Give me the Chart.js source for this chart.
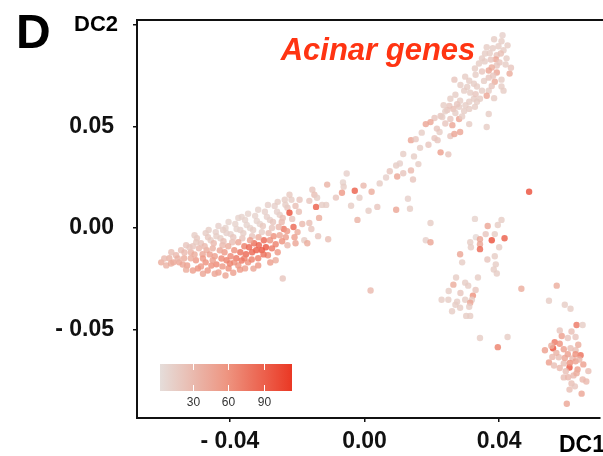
<!DOCTYPE html>
<html>
<head>
<meta charset="utf-8">
<script src="https://cdn.jsdelivr.net/npm/chart.js@4.4.1/dist/chart.umd.min.js"></script>
<style>
  html, body { margin: 0; padding: 0; background: #fff; }
</style>
</head>
<body>
<canvas id="dcChart" width="603" height="456"></canvas>
<script>
// cells as [DC1, DC2, acinar score], DC values in units of 1e-3
const leftArm = [
  [-60.4,-16.9,40],[-58.0,-14.9,35],[-56.0,-13.4,30],[-56.8,-16.9,45],[-54.5,-10.9,25],[-53.6,-14.9,40],[-52.7,-18.4,50],[-51.6,-11.9,35],[-51.0,-9.0,20],[-50.1,-15.9,55],
  [-49.5,-19.9,60],[-48.6,-7.5,20],[-48.1,-12.9,45],[-47.2,-16.9,60],[-46.6,-20.9,55],[-45.7,-6.0,15],[-45.1,-10.0,35],[-44.5,-13.9,50],[-44.0,-17.9,65],[-43.4,-21.9,50],
  [-42.8,-5.0,15],[-42.2,-8.5,30],[-41.6,-11.9,55],[-41.0,-15.9,70],[-40.4,-19.9,60],[-39.8,-3.0,12],[-39.3,-7.0,25],[-38.7,-10.9,60],[-38.1,-14.9,75],[-37.5,-18.4,55],
  [-36.9,-1.0,12],[-36.3,-5.0,20],[-35.7,-9.0,70],[-35.2,-12.9,85],[-34.6,-16.9,60],[-34.0,0,10],[-33.4,-4.0,20],[-32.8,-7.5,80],[-32.2,-10.9,90],[-31.6,-14.9,70],
  [-31.1,2.0,10],[-30.5,-2.0,15],[-29.9,-6.0,85],[-29.3,-9.5,95],[-28.7,-13.4,65],[-28.1,4.0,12],[-27.5,0,20],[-27.0,-4.0,60],[-26.4,-8.0,70],[-25.8,-11.9,55],
  [-25.2,6.5,15],[-24.6,3.0,30],[-24.0,-0.5,75],[-23.4,-4.5,50],[-22.9,10.0,20],[-22.3,7.5,100],[-21.7,13.9,15],[-21.1,0.5,85],[-20.5,10.9,25],[-19.9,-2.0,40],[-19.3,13.9,20]
];
const leftArmFill = [
  [-53.0,-8.5,20],[-49.8,-5.0,18],[-47.2,-2.5,15],[-44.2,-2.0,12],[-41.3,0,10],[-38.4,2.0,10],[-35.5,4.0,10],[-32.5,6.0,10],[-29.6,8.0,12],[-26.7,10.9,12],
  [-23.7,13.9,15],[-22.3,16.4,18],[-25.8,12.9,15],[-28.7,11.4,12],[-31.6,9.0,10],[-34.6,7.0,10],[-37.5,5.0,10],[-40.4,3.0,10],[-43.4,1.0,12],[-46.3,-1.0,14],
  [-49.2,-10.0,30],[-46.9,-10.9,40],[-44.8,-7.5,30],[-41.9,-6.5,25],[-39.0,-4.5,20],[-36.0,-2.5,15],[-33.1,-1.0,15],[-30.2,1.0,18],[-27.2,3.0,20],[-24.3,5.0,25],
  [-39.8,-13.9,65],[-36.9,-11.9,80],[-34.3,-9.5,85],[-31.4,-8.5,88],[-30.5,-10.9,95],[-33.4,-11.9,85],[-35.7,-14.9,70],[-38.7,-16.9,60],[-42.2,-18.9,55],[-45.1,-15.9,50],
  [-48.6,-18.9,55],[-51.6,-14.9,40],[-55.1,-16.9,45],[-58.9,-18.4,35],[-28.1,-6.0,60],[-25.2,-3.5,45],[-22.9,-8.5,30],[-26.4,-15.9,40],[-24.3,-24.9,20],[-20.8,-4.5,50],
  [-17.9,-6.0,15],[-41.3,-23.4,45],[-35.5,-19.9,50],[-31.6,-18.4,55],[-51.0,-20.9,50],[-57.4,-11.9,25]
];
const leftArmExtra = [
  [-59.5,-15.0,30],[-57.5,-17.5,40],[-55.5,-15.0,35],[-54.0,-18.0,45],[-53.5,-12.0,30],[-52.0,-9.5,20],[-50.5,-13.0,40],[-50.0,-7.0,18],[-48.0,-15.0,55],[-47.5,-9.0,30],
  [-46.0,-13.0,50],[-45.5,-18.5,60],[-44.0,-4.0,14],[-43.0,-11.0,45],[-42.5,-15.0,65],[-41.0,-2.5,12],[-40.5,-9.0,40],[-40.0,-17.5,70],[-38.0,-0.5,10],[-37.5,-7.0,45],
  [-37.0,-20.5,55],[-36.5,-16.0,75],[-35.0,1.5,10],[-34.0,-6.0,50],[-33.5,-15.5,70],[-32.0,3.5,10],[-31.5,-4.5,40],[-30.0,-13.0,80],[-29.0,5.5,12],[-28.5,-2.5,30],
  [-27.5,-10.0,75],[-26.0,8.0,12],[-25.5,0.5,30],[-24.5,-6.5,60],[-23.5,11.5,15],[-23.0,-1.5,55],[-21.5,4.5,20],[-20.5,-7.5,45],[-19.5,8.0,25],[-18.5,2.0,30],
  [-44.5,-22.5,45],[-39.0,-22.0,50],[-33.0,-20.0,45],[-28.0,-17.0,50],[-48.0,-22.5,45],[-53.0,-20.5,40],[-42.0,-1.0,14],[-46.5,-4.5,18],[-50.5,-3.5,15],[-36.5,5.5,10]
];
const middleBridge = [
  [-16.4,13.4,20],[-15.5,18.9,20],[-14.9,16.4,25],[-14.4,10.4,90],[-14.1,14.9,15],[-12.6,11.4,15],[-11.4,11.4,15],[-11.1,21.4,35],[-13.5,5.0,40],[-16.4,2.5,25],
  [-15.8,-0.5,20],[-17.0,-7.5,40],[-13.8,-4.0,20],[-10.8,-5.5,25],[-6.4,22.4,10],[-6.2,20.4,15],[-6.7,17.4,55],[-5.3,26.9,12],[-2.9,18.4,90],[-0.3,20.9,30],
  [-1.5,14.9,15],[2.1,17.9,40],[1.2,8.5,15],[3.8,10.4,20],[-2.1,4.0,35],[6.4,24.9,12],[9.7,25.4,45],[9.4,30.8,15],[10.5,31.8,12],[14.7,35.3,15],
  [13.8,28.4,30],[14.4,23.9,20],[12.9,14.4,12],[9.4,9.0,45],[13.5,9.5,15],[18.2,-6.0,12],[1.8,-30.8,30],
  [4.5,22.0,15],[7.5,28.0,20],[-8.5,15.0,20],[-4.0,11.0,15],[11.5,27.0,20],[16.0,31.5,15]
];
const upperArm = [
  [41.0,95.0,12],[40.7,92.0,15],[39.8,89.6,15],[38.1,88.6,15],[36.3,89.1,15],[37.2,86.1,15],[39.3,85.1,20],[41.3,87.6,15],[42.2,83.6,15],[39.0,83.1,45],
  [40.1,81.6,20],[41.9,80.6,15],[39.3,80.1,20],[37.8,79.1,40],[36.9,77.6,45],[34.9,83.6,15],[35.7,82.1,15],[34.0,81.1,15],[32.8,78.6,15],[34.9,77.1,20],
  [36.9,74.1,20],[39.3,76.6,45],[38.7,72.1,40],[40.7,73.1,15],[43.1,76.1,40],[40.7,69.7,15],[41.3,67.7,15],[29.9,74.6,15],[31.1,72.6,15],[26.7,73.1,20],
  [32.5,71.1,15],[33.4,69.7,15],[29.6,67.7,15],[31.4,66.7,15],[34.9,67.7,15],[36.9,67.7,15],[36.3,65.2,45],[34.3,63.7,15],[32.5,63.7,15],[31.1,62.2,15],
  [28.4,62.7,15],[27.0,65.7,15],[25.5,63.7,15],[28.1,59.7,15],[25.2,60.2,20],[24.6,58.2,20],[26.4,58.7,25],[27.0,56.7,15],[29.6,57.7,15],[31.1,58.7,15],
  [32.8,59.7,15],[33.4,62.2,15],[22.6,55.2,20],[20.8,54.2,20],[19.6,52.2,45],[18.2,51.2,45],[25.5,53.7,20],[28.1,53.7,45],[26.1,50.7,45],[31.1,51.2,15],
  [36.3,49.8,15],[36.9,56.2,15],[13.8,43.3,45],[15.2,43.8,20],[20.8,44.3,20],[21.7,43.3,20],[25.5,45.3,20],[26.7,46.3,45],[28.4,47.3,45],[22.6,37.3,50],
  [24.9,36.3,20],[22.3,47.3,15],[23.1,54.7,15],
  [38.5,93.0,15],[42.5,90.0,15],[40.5,86.0,25],[37.5,83.0,20],[35.8,86.0,15],[43.5,79.0,20],[38.2,75.0,20],[35.5,72.5,15],[37.8,70.0,20],[33.0,75.5,15],
  [30.5,69.5,15],[28.5,70.5,15],[33.0,66.0,20],[38.5,64.0,15],[30.0,60.5,15],[27.5,61.0,20],[23.5,60.5,15],[29.0,55.0,15],[24.0,51.5,20],[21.5,49.0,20],
  [17.0,47.0,15],[19.0,41.0,20],[16.5,39.5,15],[11.5,36.5,15],[24.0,57.5,15]
];
const midCluster = [
  [48.9,17.9,100],[19.6,2.5,15],[19.6,-7.0,45],[32.8,4.5,10],[36.6,1.0,45],[39.6,1.5,15],[40.7,4.0,15],[33.1,-4.5,5],[38.7,-3.0,15],[34.3,-5.5,45],
  [37.8,-6.0,100],[41.6,-5.0,90],[31.4,-7.0,15],[34.3,-8.0,45],[31.6,-9.5,15],[34.3,-10.4,85],[28.4,-12.9,45],[29.0,-16.9,15],[38.7,-13.9,15],[39.0,-17.9,15],
  [38.4,-20.4,15],[39.3,-22.4,15],[33.7,-24.4,15],[27.2,-24.4,15],[26.4,-27.9,40],[29.9,-26.9,15],[30.8,-28.4,15],[32.2,-33.3,60],[31.9,-35.3,15],[22.9,-35.3,15],
  [24.9,-35.3,15],[27.5,-36.3,15],[29.9,-35.3,15],[31.4,-36.8,45],[27.0,-37.8,15],[28.4,-39.3,15],[31.1,-38.8,15],[30.2,-43.3,15],[31.4,-43.3,15],[46.6,-29.9,40],
  [57.1,-28.4,40],[54.8,-35.8,15],[34.3,-54.2,15],[39.6,-58.7,70],[42.5,-53.7,15],[59.5,-37.8,15],[61.2,-39.8,15],
  [36.0,-3.0,20],[40.0,-9.5,15],[36.5,-15.5,20],[25.0,-31.0,15],[28.5,-32.0,20],[26.0,-41.0,15],[33.0,-30.5,20]
];
const lowerCluster = [
  [63.0,-47.8,75],[64.8,-47.8,15],[58.6,-53.2,50],[60.4,-54.2,20],[62.7,-53.7,20],[56.5,-56.2,75],[56.0,-59.2,100],[53.6,-60.2,50],[59.2,-59.7,50],[61.2,-59.2,25],
  [62.7,-60.2,25],[60.4,-62.2,50],[64.2,-62.7,80],[57.7,-63.7,25],[61.8,-64.2,30],[54.8,-66.2,50],[56.3,-67.7,25],[59.2,-66.7,25],[62.7,-65.7,50],[65.0,-67.2,50],
  [60.9,-68.7,95],[63.3,-69.7,50],[59.8,-70.6,25],[62.1,-72.6,30],[59.2,-73.6,25],[64.8,-74.6,30],[65.9,-75.6,30],[61.5,-76.6,25],[60.9,-79.6,25],[64.5,-81.6,45],
  [60.1,-86.6,45],[62.7,-62.2,60],
  [58.0,-50.5,20],[61.5,-51.0,25],[55.5,-58.0,40],[58.0,-57.0,60],[63.5,-57.5,40],[57.0,-61.5,35],[59.5,-64.0,45],[63.8,-64.8,35],[55.8,-63.5,30],[61.0,-66.5,60],
  [58.0,-69.0,30],[63.0,-71.5,40],[60.5,-73.5,30],[66.5,-70.5,25],[62.5,-78.0,20]
];

const xTicks = [-0.04, 0, 0.04];
const yTicks = [-0.05, 0, 0.05, 0.10];
const legendTicks = [30, 60, 90];
const scoreMin = 2;
const scoreMax = 114;

// low -> mid -> high colour stops of the score scale
const lowRgb = [229, 221, 218];
const midRgb = [238, 150, 130];
const highRgb = [234, 56, 36];
const fontFamily = "'Liberation Sans', Arial, sans-serif";

function scoreColor(v, alpha) {
  let t = (v - scoreMin) / (scoreMax - scoreMin);
  t = Math.max(0, Math.min(1, t));
  let a = lowRgb, b = midRgb, f = t * 2;
  if (t > 0.5) { a = midRgb; b = highRgb; f = (t - 0.5) * 2; }
  const c = a.map((lo, i) => Math.round(lo + (b[i] - lo) * f));
  return 'rgba(' + c[0] + ',' + c[1] + ',' + c[2] + ',' + alpha + ')';
}

function fmtTick(v) {
  if (Math.abs(v) < 1e-9) return '0.00';
  const s = Math.abs(v).toFixed(2);
  return v < 0 ? '- ' + s : s;
}

const cells = [].concat(leftArm, leftArmFill, leftArmExtra, middleBridge, upperArm, midCluster, lowerCluster);
const points = cells.map(c => ({ x: c[0] / 1000, y: c[1] / 1000 }));
const colors = cells.map(c => scoreColor(c[2], 0.82));

const decorations = {
  id: 'decorations',
  afterDraw(chart) {
    const ctx = chart.ctx;
    const area = chart.chartArea;
    ctx.save();

    // top frame line
    ctx.strokeStyle = '#111';
    ctx.lineWidth = 2;
    ctx.beginPath();
    ctx.moveTo(area.left - 1, area.top);
    ctx.lineTo(603, area.top);
    ctx.stroke();

    ctx.fillStyle = '#000';
    ctx.textBaseline = 'alphabetic';
    ctx.font = 'bold 48px ' + fontFamily;
    ctx.textAlign = 'left';
    ctx.fillText('D', 16, 48);

    ctx.font = 'bold 22px ' + fontFamily;
    ctx.textAlign = 'right';
    ctx.fillText('DC2', 118, 31);

    ctx.font = 'bold 23px ' + fontFamily;
    ctx.textAlign = 'left';
    ctx.fillText('DC1', 559, 452);

    ctx.fillStyle = '#ff3412';
    ctx.font = 'italic bold 31px ' + fontFamily;
    ctx.textAlign = 'center';
    ctx.fillText('Acinar genes', 378, 60);

    // colour bar
    const bx = 160, by = 364, bw = 132, bh = 27;
    const grad = ctx.createLinearGradient(bx, 0, bx + bw, 0);
    for (let i = 0; i <= 10; i++) {
      grad.addColorStop(i / 10, scoreColor(scoreMin + (scoreMax - scoreMin) * i / 10, 1));
    }
    ctx.fillStyle = grad;
    ctx.fillRect(bx, by, bw, bh);

    ctx.strokeStyle = '#fff';
    ctx.lineWidth = 1;
    ctx.fillStyle = '#333';
    ctx.font = '12px ' + fontFamily;
    ctx.textAlign = 'center';
    ctx.textBaseline = 'middle';
    legendTicks.forEach(v => {
      const tx = Math.round(bx + (v - scoreMin) / (scoreMax - scoreMin) * bw) + 0.5;
      ctx.beginPath();
      ctx.moveTo(tx, by);
      ctx.lineTo(tx, by + 6);
      ctx.moveTo(tx, by + bh - 6);
      ctx.lineTo(tx, by + bh);
      ctx.stroke();
      ctx.fillText(String(v), tx, 403);
    });

    ctx.restore();
  }
};

const ctx = document.getElementById('dcChart').getContext('2d');

new Chart(ctx, {
  type: 'scatter',
  data: {
    datasets: [{
      data: points,
      pointBackgroundColor: colors,
      pointBorderWidth: 0,
      pointRadius: 3.2,
      pointHoverRadius: 3.2
    }]
  },
  options: {
    responsive: false,
    animation: false,
    events: [],
    layout: { padding: { top: 20, right: 0, bottom: 0, left: 0 } },
    plugins: {
      legend: { display: false },
      tooltip: { enabled: false }
    },
    scales: {
      x: {
        type: 'linear',
        min: -0.0676,
        max: 0.0699,
        afterBuildTicks: s => { s.ticks = xTicks.map(v => ({ value: v })); },
        afterFit: s => { s.height = 38; s.paddingLeft = 0; s.paddingRight = 0; },
        ticks: {
          callback: v => fmtTick(v),
          color: '#111',
          padding: 6,
          maxRotation: 0,
          autoSkip: false,
          font: { family: fontFamily, size: 23, weight: 'bold' }
        },
        grid: { drawOnChartArea: false, color: '#111', tickLength: 4, lineWidth: 1.5 },
        border: { color: '#111', width: 2 }
      },
      y: {
        type: 'linear',
        min: -0.0936,
        max: 0.1025,
        afterBuildTicks: s => { s.ticks = yTicks.map(v => ({ value: v })); },
        afterFit: s => { s.width = 137; s.paddingTop = 0; s.paddingBottom = 0; },
        ticks: {
          callback: v => (v > 0.09 ? '' : fmtTick(v)),
          color: '#111',
          padding: 19,
          autoSkip: false,
          font: { family: fontFamily, size: 23, weight: 'bold' }
        },
        grid: { drawOnChartArea: false, color: '#111', tickLength: 4, lineWidth: 1.5 },
        border: { color: '#111', width: 2 }
      }
    }
  },
  plugins: [decorations]
});
</script>
</body>
</html>
